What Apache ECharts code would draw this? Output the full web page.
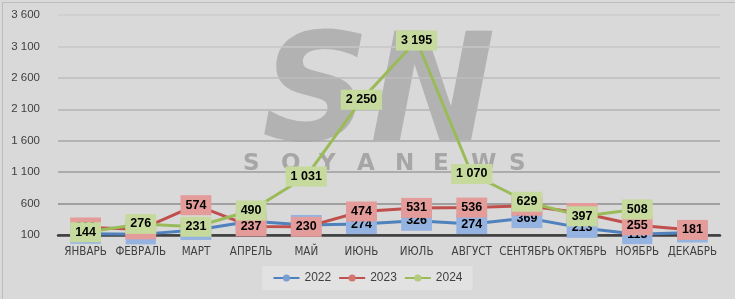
<!DOCTYPE html>
<html><head><meta charset="utf-8">
<script src="https://cdn.jsdelivr.net/npm/echarts@6/dist/echarts.min.js"></script>
<style>html,body{margin:0;padding:0;background:#d9d9d9;}#c{width:735px;height:299px;}</style>
</head><body><div id="c"></div>
<script>
const categories = ['ЯНВАРЬ','ФЕВРАЛЬ','МАРТ','АПРЕЛЬ','МАЙ','ИЮНЬ','ИЮЛЬ','АВГУСТ','СЕНТЯБРЬ','ОКТЯБРЬ','НОЯБРЬ','ДЕКАБРЬ'];
const seriesNames = ['2022','2023','2024'];
const values2022 = [120, 110, 180, 320, 260, 274, 326, 274, 369, 213, 113, 140];
const values2023 = [220, 190, 574, 237, 230, 474, 531, 536, 565, 450, 255, 181];
const values2024 = [144, 276, 231, 490, 1031, 2250, 3195, 1070, 629, 397, 508, null];
const yMin = 100, yMax = 3600, yStep = 500;

const fmt = v => String(v).replace(/\B(?=(\d{3})+(?!\d))/g, ' ');
const colors = ['#4f81bd','#c0504d','#9bbb59'];
const markerColors = ['#7a9fd3','#d27571','#b3cc7c'];
const labelBg = ['#95b3e0','#e39c9a','#c6da9e'];

function mk(i, data){
  return {
    name: seriesNames[i], type:'line', data: data,
    symbol:'circle', symbolSize: 16,
    lineStyle:{color:colors[i], width:3},
    itemStyle:{color:markerColors[i], borderColor:markerColors[i]},
    z: 2+i,
    label:{show:true, position:'inside', formatter:p=>fmt(p.value),
      color:'#000', fontFamily:'Liberation Sans', fontSize:12.5, fontWeight:'bold',
      backgroundColor:labelBg[i], padding:[4,5,3,5]},
    emphasis:{disabled:true}
  };
}

const wm = ['S','O','Y','A','N','E','W','S'].map((ch,k)=>({
  type:'text', left: 243 + k*38, top: 153, z:0, silent:true,
  style:{text:ch, fill:'#a6a6a6', font:'bold 23px "DejaVu Sans"'}
}));

const chart = echarts.init(document.getElementById('c'));
chart.setOption({
  backgroundColor:'#d9d9d9',
  animation:false,
  color: colors,
  graphic: [
    {type:'rect', left:0, top:0, z:-1, shape:{x:0.5,y:0.5,width:733,height:297}, style:{fill:'none', stroke:'#bdbdbd', lineWidth:1}},
    {type:'text', left:262, top:26, z:0, silent:true,
     style:{text:'SN', fill:'rgba(168,168,168,0.8)', font:'italic bold 150px "DejaVu Sans"'}}
  ].concat(wm),
  grid:{left:58, right:15, top:15, bottom:64},
  legend:{bottom:9, left:'center', data:seriesNames, itemWidth:26, itemHeight:9, itemGap:7,
    backgroundColor:'#e2e2e2', padding:[6,10,6,10],
    textStyle:{color:'#404040', fontSize:12, fontFamily:'Liberation Sans'}},
  xAxis:{type:'category', data:categories, boundaryGap:true,
    axisLine:{lineStyle:{color:'#3f3f3f', width:2.5}}, axisTick:{show:false},
    axisLabel:{color:'#404040', fontSize:11.5, fontFamily:'"DejaVu Sans Condensed"', margin:11, interval:0}},
  yAxis:{type:'value', min:yMin, max:yMax, interval:yStep,
    axisLine:{show:false}, axisTick:{show:false},
    axisLabel:{color:'#404040', fontSize:11.5, fontFamily:'Liberation Sans', formatter:fmt, margin:18},
    splitLine:{lineStyle:{color:['#3f3f3f','#8c8c8c','#9c9c9c','#a6a6a6','#b3b3b3','#bdbdbd','#c6c6c6','#cccccc'], width:1.5}}},
  series:[mk(0,values2022), mk(1,values2023), mk(2,values2024)]
});
</script></body></html>
